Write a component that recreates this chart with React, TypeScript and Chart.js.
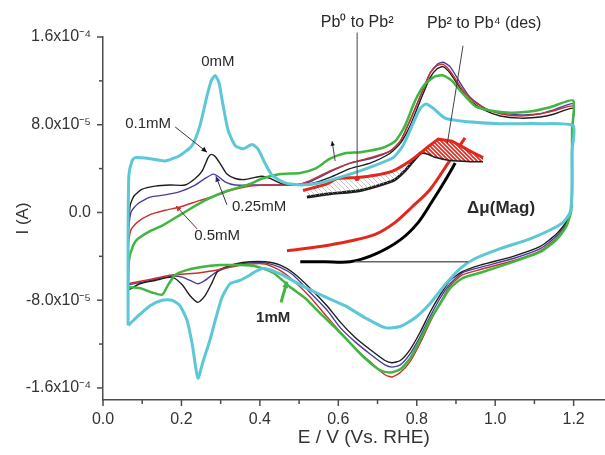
import React, { useEffect, useRef } from "react";
import { Chart, registerables } from "chart.js";

Chart.register(...registerables);

// ---------------- axes ----------------
const xTickValues = [0, 0.2, 0.4, 0.6, 0.8, 1.0, 1.2];
const xTickLabels = ["0.0", "0.2", "0.4", "0.6", "0.8", "1.0", "1.2"];
const yTickValues = [1.6e-4, 8.0e-5, 0, -8.0e-5, -1.6e-4];
const yTickLabels = ["1.6x10⁻⁴", "8.0x10⁻⁵", "0.0", "-8.0x10⁻⁵", "-1.6x10⁻⁴"];
const seriesLabels = ["0mM", "0.1mM", "0.25mM", "0.5mM", "1mM"];
const xTitle = "E / V (Vs. RHE)";
const yTitle = "I (A)";

const UNIT = 1e-5; // currents below are in units of 1e-5 A

// ---------------- CV loops (anodic sweep, then cathodic sweep) ----------------
// 0 mM (cyan)
const cyanE = [
  0.064, 0.064, 0.066, 0.074, 0.082, 0.120, 0.158, 0.196, 0.227, 0.247, 0.265, 0.276, 0.286, 0.296, 0.304, 0.319,
  0.337, 0.357, 0.380, 0.395, 0.413, 0.431, 0.464, 0.503, 0.554, 0.630, 0.694, 0.740, 0.765, 0.788, 0.809, 0.824,
  0.842, 0.872, 0.923, 1.013, 1.115, 1.199,
  1.196, 1.196, 1.191, 1.173, 1.140, 1.089, 1.013, 0.949, 0.911, 0.872, 0.834, 0.796, 0.758, 0.719, 0.668, 0.617,
  0.554, 0.503, 0.452, 0.413, 0.393, 0.375, 0.349, 0.324, 0.304, 0.288, 0.273, 0.255, 0.242, 0.227, 0.214, 0.196,
  0.176, 0.151, 0.120, 0.094, 0.064,
];
const cyanI = [
  -10.3, -2.5, 3.4, 4.7, 5.0, 4.9, 4.7, 5.2, 6.1, 7.9, 10.6, 12.0, 12.5, 11.8, 10.2, 7.5,
  6.1, 5.8, 6.2, 5.8, 4.5, 3.4, 2.7, 2.5, 2.7, 3.5, 4.3, 5.0, 6.1, 7.9, 9.5, 9.9,
  9.5, 8.6, 8.3, 8.1, 8.1, 7.9,
  5.6, 2.0, 0.0, -0.9, -1.6, -2.4, -3.3, -4.2, -5.1, -6.6, -8.3, -9.6, -10.4, -10.5, -9.6, -8.5,
  -7.5, -6.6, -5.6, -5.1, -5.3, -5.7, -6.2, -6.5, -7.7, -9.6, -11.6, -13.6, -15.1, -11.9, -9.8, -8.5,
  -8.0, -8.0, -8.5, -9.3, -10.3,
];

// 0.1 mM (black)
const blackE = [
  0.064, 0.064, 0.069, 0.079, 0.099, 0.133, 0.171, 0.209, 0.235, 0.253, 0.268, 0.276, 0.286, 0.298, 0.316, 0.337,
  0.362, 0.388, 0.406, 0.426, 0.457, 0.490, 0.528, 0.579, 0.630, 0.681, 0.732, 0.758, 0.783, 0.809, 0.834, 0.852,
  0.867, 0.885, 0.911, 0.936, 0.974, 1.013, 1.064, 1.115, 1.153, 1.199,
  1.196, 1.196, 1.194, 1.184, 1.158, 1.115, 1.046, 0.962, 0.916, 0.885, 0.860, 0.834, 0.809, 0.783, 0.758, 0.737,
  0.719, 0.681, 0.643, 0.605, 0.571, 0.528, 0.485, 0.452, 0.413, 0.375, 0.337, 0.311, 0.293, 0.278, 0.260, 0.242,
  0.222, 0.202, 0.176, 0.133, 0.094, 0.064,
];
const blackI = [
  -7.1, -2.5, 0.6, 1.5, 2.1, 2.4, 2.5, 2.5, 3.1, 3.8, 5.0, 5.3, 5.1, 4.5, 3.5, 3.1,
  3.0, 3.2, 3.3, 3.1, 2.6, 2.5, 2.6, 3.2, 4.0, 4.5, 5.4, 6.3, 7.9, 10.2, 12.3, 13.1,
  13.3, 12.7, 11.3, 10.2, 9.3, 8.8, 8.6, 8.7, 9.0, 9.5,
  7.5, 2.9, 0.6, -0.7, -1.9, -3.1, -4.0, -4.8, -5.4, -6.2, -7.5, -9.1, -10.9, -12.5, -13.5, -13.7,
  -13.5, -12.5, -11.4, -10.0, -8.5, -6.9, -5.5, -4.8, -4.5, -4.5, -4.7, -5.0, -5.3, -6.4, -7.6, -8.2,
  -7.6, -6.6, -5.9, -6.2, -6.5, -7.1,
];

// 0.25 mM (purple)
const purpleE = [
  0.064, 0.064, 0.071, 0.089, 0.120, 0.158, 0.196, 0.235, 0.260, 0.281, 0.293, 0.311, 0.337, 0.375, 0.413, 0.452,
  0.490, 0.528, 0.579, 0.630, 0.681, 0.732, 0.758, 0.783, 0.809, 0.834, 0.852, 0.867, 0.885, 0.911, 0.936, 0.974,
  1.013, 1.064, 1.115, 1.153, 1.199,
  1.196, 1.196, 1.194, 1.184, 1.158, 1.115, 1.046, 0.962, 0.916, 0.885, 0.860, 0.834, 0.809, 0.783, 0.758, 0.737,
  0.719, 0.681, 0.643, 0.605, 0.571, 0.528, 0.485, 0.452, 0.413, 0.375, 0.337, 0.311, 0.286, 0.260, 0.242, 0.222,
  0.202, 0.176, 0.133, 0.094, 0.064,
];
const purpleI = [
  -6.6, -2.5, 0.0, 0.8, 1.4, 1.6, 1.9, 2.5, 3.1, 3.5, 3.3, 2.8, 2.5, 2.5, 2.5, 2.5,
  2.5, 2.8, 3.7, 4.5, 4.9, 5.6, 6.5, 8.4, 10.6, 12.7, 13.5, 13.7, 13.3, 11.8, 10.5, 9.5,
  9.1, 8.9, 9.0, 9.4, 9.9,
  7.5, 2.9, 0.5, -0.9, -2.1, -3.3, -4.2, -5.0, -5.5, -6.5, -7.8, -9.5, -11.3, -12.9, -13.9, -14.1,
  -13.9, -12.9, -11.8, -10.5, -8.9, -7.3, -5.7, -5.0, -4.6, -4.6, -4.8, -5.1, -5.5, -6.2, -6.5, -6.2,
  -5.9, -5.8, -6.1, -6.4, -6.6,
];

// 0.5 mM (red)
const redE = [
  0.064, 0.064, 0.071, 0.087, 0.120, 0.158, 0.196, 0.247, 0.286, 0.324, 0.375, 0.413, 0.452, 0.490, 0.528, 0.579,
  0.630, 0.681, 0.732, 0.758, 0.783, 0.809, 0.834, 0.852, 0.867, 0.885, 0.911, 0.936, 0.974, 1.013, 1.064, 1.115,
  1.153, 1.199,
  1.196, 1.196, 1.194, 1.184, 1.158, 1.115, 1.046, 0.962, 0.916, 0.885, 0.860, 0.834, 0.809, 0.783, 0.758, 0.737,
  0.719, 0.681, 0.643, 0.605, 0.571, 0.528, 0.485, 0.452, 0.413, 0.375, 0.337, 0.298, 0.247, 0.176, 0.120, 0.064,
];
const redI = [
  -6.5, -3.5, -1.6, -0.9, -0.2, 0.2, 0.5, 1.1, 1.5, 2.0, 2.4, 2.5, 2.5, 2.5, 2.9, 3.8,
  4.5, 5.0, 5.6, 6.5, 8.4, 10.6, 12.7, 13.4, 13.5, 12.9, 11.5, 10.4, 9.5, 9.0, 8.8, 9.0,
  9.3, 9.7,
  7.5, 2.9, 0.4, -1.1, -2.3, -3.5, -4.4, -5.2, -5.7, -6.7, -8.2, -10.0, -11.9, -13.6, -14.6, -15.0,
  -14.8, -13.6, -12.4, -10.9, -9.5, -7.7, -6.2, -5.3, -4.7, -4.7, -4.9, -5.2, -5.5, -5.7, -6.1, -6.5,
];

// 1 mM (green)
const greenE = [
  0.064, 0.066, 0.077, 0.089, 0.120, 0.151, 0.202, 0.260, 0.319, 0.375, 0.406, 0.452, 0.503, 0.541, 0.579, 0.617,
  0.656, 0.714, 0.745, 0.770, 0.796, 0.821, 0.847, 0.867, 0.890, 0.916, 0.949, 0.987, 1.038, 1.089, 1.140, 1.199,
  1.196, 1.196, 1.194, 1.181, 1.156, 1.115, 1.046, 0.962, 0.916, 0.885, 0.860, 0.834, 0.809, 0.783, 0.758, 0.732,
  0.707, 0.668, 0.630, 0.592, 0.554, 0.515, 0.477, 0.434, 0.388, 0.349, 0.298, 0.247, 0.209, 0.184, 0.166, 0.151,
  0.125, 0.094, 0.064,
];
const greenI = [
  -6.8, -4.4, -3.0, -2.4, -1.7, -1.2, -0.1, 1.1, 2.0, 2.6, 3.1, 3.5, 3.6, 4.0, 4.9, 5.4,
  5.5, 5.9, 6.5, 7.9, 10.2, 11.7, 12.4, 12.5, 12.0, 10.9, 9.7, 9.3, 9.1, 9.2, 9.6, 10.2,
  7.5, 2.9, 0.2, -1.3, -2.5, -3.6, -4.5, -5.5, -6.0, -6.9, -8.3, -9.8, -11.6, -13.3, -14.3, -14.6,
  -14.4, -13.3, -11.9, -10.5, -9.2, -7.8, -6.8, -5.5, -4.9, -4.8, -4.8, -5.0, -5.3, -5.7, -6.6, -7.5,
  -7.3, -6.9, -6.8,
];

// ---------------- Δμ(Mag) inset traces (same axes units) ----------------
const magRedTopE = [0.510, 0.541, 0.571, 0.597, 0.648, 0.694, 0.740, 0.783, 0.809];
const magRedTopI = [2.0, 2.3, 2.6, 3.1, 3.2, 3.4, 3.8, 4.7, 5.4];
const magRedPeakE = [0.809, 0.829, 0.855, 0.890, 0.911, 0.936, 0.969];
const magRedPeakI = [5.4, 6.0, 6.7, 6.5, 6.1, 5.6, 5.0];
const magBlackTopE = [0.520, 0.579, 0.656, 0.740, 0.770, 0.809, 0.827, 0.847, 0.885, 0.936, 0.969];
const magBlackTopI = [1.4, 1.7, 2.0, 2.9, 3.8, 5.4, 5.4, 5.1, 4.8, 4.7, 4.7];
const magRedLowE = [0.469, 0.554, 0.630, 0.694, 0.745, 0.788, 0.834, 0.880, 0.923];
const magRedLowI = [-3.5, -3.1, -2.6, -2.0, -0.9, 0.5, 2.1, 4.5, 6.8];
const magBlackLowE = [0.503, 0.566, 0.630, 0.694, 0.758, 0.804, 0.839, 0.872, 0.898];
const magBlackLowI = [-4.5, -4.5, -4.5, -3.8, -2.5, -0.9, 1.0, 2.9, 4.5];

// ---------------- styling ----------------
const FONT = '"Liberation Sans", Arial, Helvetica, sans-serif';
const AXIS_COLOR = "#4d4d4d";
const TEXT_COLOR = "#2a2a2a";
const C_CYAN = "#5cc7d7";
const C_BLACK = "#1e1e1e";
const C_PURPLE = "#4b3d9e";
const C_RED = "#c8312c";
const C_GREEN = "#3fb63f";
const C_MAGRED = "#e2271d";

const pts = (E: number[], I: number[]) => {
  const n = Math.min(E.length, I.length);
  const out: { x: number; y: number }[] = [];
  for (let k = 0; k < n; k++) out.push({ x: E[k], y: I[k] * UNIT });
  return out;
};

function makeHatch(color: string, bg: string | null, size: number, lw: number) {
  const c = document.createElement("canvas");
  c.width = size;
  c.height = size;
  const g = c.getContext("2d")!;
  if (bg) {
    g.fillStyle = bg;
    g.fillRect(0, 0, size, size);
  }
  g.strokeStyle = color;
  g.lineWidth = lw;
  g.beginPath();
  g.moveTo(-1, -1);
  g.lineTo(size + 1, size + 1);
  g.moveTo(-1, size - 1);
  g.lineTo(1, size + 1);
  g.moveTo(size - 1, -1);
  g.lineTo(size + 1, 1);
  g.stroke();
  return g.createPattern(c, "repeat");
}

function arrow(ctx: CanvasRenderingContext2D, x1: number, y1: number, x2: number, y2: number,
  lineColor: string, headColor: string, lw: number, head: number) {
  ctx.strokeStyle = lineColor;
  ctx.lineWidth = lw;
  ctx.beginPath();
  ctx.moveTo(x1, y1);
  ctx.lineTo(x2, y2);
  ctx.stroke();
  const a = Math.atan2(y2 - y1, x2 - x1);
  ctx.fillStyle = headColor;
  ctx.beginPath();
  ctx.moveTo(x2, y2);
  ctx.lineTo(x2 - head * Math.cos(a - 0.45), y2 - head * Math.sin(a - 0.45));
  ctx.lineTo(x2 - head * Math.cos(a + 0.45), y2 - head * Math.sin(a + 0.45));
  ctx.closePath();
  ctx.fill();
}

const decorPlugin = {
  id: "decor",
  afterDraw(chart: any) {
    const { ctx, scales } = chart;
    const xs = scales.x;
    const ys = scales.y;
    const X = (v: number) => xs.getPixelForValue(v);
    const Y = (i: number) => ys.getPixelForValue(i * UNIT);
    ctx.save();

    // tick marks (major + minor)
    ctx.strokeStyle = AXIS_COLOR;
    ctx.lineWidth = 1.5;
    for (let k = -16; k <= 16; k += 4) {
      const len = k % 8 === 0 ? 6 : 4;
      const yy = Y(k);
      ctx.beginPath();
      ctx.moveTo(xs.left - len, yy);
      ctx.lineTo(xs.left, yy);
      ctx.stroke();
    }
    for (let k = 0; k <= 12; k++) {
      const len = k % 2 === 0 ? 6 : 4;
      const xx = X(k / 10);
      ctx.beginPath();
      ctx.moveTo(xx, ys.bottom);
      ctx.lineTo(xx, ys.bottom + len);
      ctx.stroke();
    }

    // x-axis title
    ctx.font = `19px ${FONT}`;
    ctx.fillStyle = "#333";
    ctx.textAlign = "center";
    ctx.textBaseline = "middle";
    ctx.fillText(xTitle, X(0.665), ys.bottom + 38);

    // leader lines
    arrow(ctx, X(0.184), Y(7.8), X(0.265), Y(5.5), "#333", "#111", 1, 6);
    arrow(ctx, X(0.316), Y(0.7), X(0.288), Y(3.3), "#333", "#2b2b6e", 1, 6);
    arrow(ctx, X(0.240), Y(-1.5), X(0.186), Y(0.6), "#5a3030", C_RED, 1, 6);
    arrow(ctx, X(0.454), Y(-8.2), X(0.469), Y(-6.3), C_GREEN, C_GREEN, 3, 7);
    arrow(ctx, X(0.592), Y(4.7), X(0.584), Y(6.5), "#444", "#111", 1, 5);

    ctx.strokeStyle = "#444";
    ctx.lineWidth = 1;
    ctx.beginPath();
    ctx.moveTo(X(0.648), Y(16.4));
    ctx.lineTo(X(0.648), Y(3.1));
    ctx.moveTo(X(0.918), Y(15.2));
    ctx.lineTo(X(0.878), Y(6.3));
    ctx.stroke();
    ctx.fillStyle = C_MAGRED;
    ctx.beginPath();
    ctx.arc(X(0.648), Y(3.1), 2.5, 0, Math.PI * 2);
    ctx.fill();

    ctx.strokeStyle = "#666";
    ctx.lineWidth = 1.5;
    ctx.beginPath();
    ctx.moveTo(X(0.643), Y(-4.5));
    ctx.lineTo(X(0.931), Y(-4.5));
    ctx.stroke();

    // labels
    const text = (s: string, v: number, i: number, size: number, bold = false) => {
      ctx.font = `${bold ? "bold " : ""}${size}px ${FONT}`;
      ctx.fillStyle = TEXT_COLOR;
      ctx.textAlign = "center";
      ctx.textBaseline = "middle";
      ctx.fillText(s, X(v), Y(i));
    };
    text(seriesLabels[0], 0.293, 13.7, 15);
    text(seriesLabels[1], 0.115, 8.1, 15);
    text(seriesLabels[2], 0.398, 0.5, 15);
    text(seriesLabels[3], 0.291, -2.1, 15);
    text(seriesLabels[4], 0.434, -9.6, 15, true);
    text("Pb⁰ to Pb²", 0.648, 17.3, 16);
    text("Pb² to Pb⁴ (des)", 0.972, 17.2, 16);
    text("Δμ(Mag)", 1.015, 0.4, 17, true);

    ctx.restore();
  },
};

export default function App() {
  const ref = useRef<HTMLCanvasElement>(null);

  useEffect(() => {
    const canvas = ref.current;
    if (!canvas) return;
    const grayHatch = makeHatch("#b4b4b4", null, 5, 0.7);
    const redHatch = makeHatch(C_MAGRED, "#ffffff", 4, 1.6);

    const loop = (label: string, E: number[], I: number[], color: string, width: number) => ({
      label,
      data: pts(E, I),
      borderColor: color,
      borderWidth: width,
      pointRadius: 0,
      tension: 0.2,
      fill: false,
    });

    const chart = new Chart(canvas, {
      type: "line",
      data: {
        datasets: [
          loop(seriesLabels[0], cyanE, cyanI, C_CYAN, 3),
          loop(seriesLabels[4], greenE, greenI, C_GREEN, 2.5),
          loop(seriesLabels[3], redE, redI, C_RED, 1.4),
          loop(seriesLabels[1], blackE, blackI, C_BLACK, 1.4),
          loop(seriesLabels[2], purpleE, purpleI, C_PURPLE, 1.4),
          {
            label: "mag red (Pb0-Pb2)",
            data: pts(magRedTopE, magRedTopI),
            borderColor: C_MAGRED,
            borderWidth: 3,
            pointRadius: 0,
            tension: 0.2,
            fill: 7,
            backgroundColor: grayHatch as any,
          },
          {
            label: "mag red (Pb2-Pb4)",
            data: pts(magRedPeakE, magRedPeakI),
            borderColor: C_MAGRED,
            borderWidth: 3,
            pointRadius: 0,
            tension: 0,
            fill: 7,
            backgroundColor: redHatch as any,
          },
          {
            label: "mag black top",
            data: pts(magBlackTopE, magBlackTopI),
            borderColor: C_BLACK,
            borderWidth: 3,
            pointRadius: 0,
            tension: 0.2,
            fill: false,
          },
          {
            label: "mag red low",
            data: pts(magRedLowE, magRedLowI),
            borderColor: C_MAGRED,
            borderWidth: 3,
            pointRadius: 0,
            tension: 0.3,
            fill: false,
          },
          {
            label: "mag black low",
            data: pts(magBlackLowE, magBlackLowI),
            borderColor: "#000000",
            borderWidth: 3,
            pointRadius: 0,
            tension: 0.3,
            fill: false,
          },
        ],
      },
      options: {
        animation: false,
        responsive: false,
        devicePixelRatio: 1,
        events: [],
        layout: { padding: { top: 37, right: 0, bottom: 0, left: 0 } },
        plugins: {
          legend: { display: false },
          tooltip: { enabled: false },
        },
        scales: {
          x: {
            type: "linear",
            min: 0,
            max: 1.28,
            grid: { display: false, drawTicks: true, tickLength: 7 },
            border: { display: true, color: AXIS_COLOR, width: 1.5 },
            afterBuildTicks: (s: any) => {
              s.ticks = xTickValues.map((v) => ({ value: v }));
            },
            afterFit: (s: any) => {
              s.height = 55;
            },
            ticks: {
              padding: 3,
              color: "#333",
              font: { family: FONT, size: 16 },
              maxRotation: 0,
              callback: (v: any) => {
                const k = xTickValues.findIndex((t) => Math.abs(t - v) < 1e-9);
                return k >= 0 ? xTickLabels[k] : "";
              },
            },
            title: { display: false, text: xTitle },
          },
          y: {
            type: "linear",
            min: -1.71e-4,
            max: 1.6e-4,
            grid: { display: false, drawTicks: true, tickLength: 7 },
            border: { display: true, color: AXIS_COLOR, width: 1.5 },
            afterBuildTicks: (s: any) => {
              s.ticks = yTickValues.map((v) => ({ value: v }));
            },
            afterFit: (s: any) => {
              s.width = 103;
            },
            ticks: {
              padding: 5,
              color: "#333",
              font: { family: FONT, size: 16 },
              callback: (v: any) => {
                const k = yTickValues.findIndex((t) => Math.abs(t - v) < 1e-12);
                return k >= 0 ? yTickLabels[k] : "";
              },
            },
            title: {
              display: true,
              text: yTitle,
              color: "#333",
              font: { family: FONT, size: 17 },
              padding: { top: 13, bottom: 0 },
            },
          },
        },
      },
      plugins: [decorPlugin],
    } as any);

    return () => chart.destroy();
  }, []);

  return (
    <div style={{ position: "fixed", left: 0, top: 0, width: 605, height: 455, background: "#ffffff" }}>
      <canvas ref={ref} width={605} height={455} style={{ display: "block", width: 605, height: 455 }} />
    </div>
  );
}
